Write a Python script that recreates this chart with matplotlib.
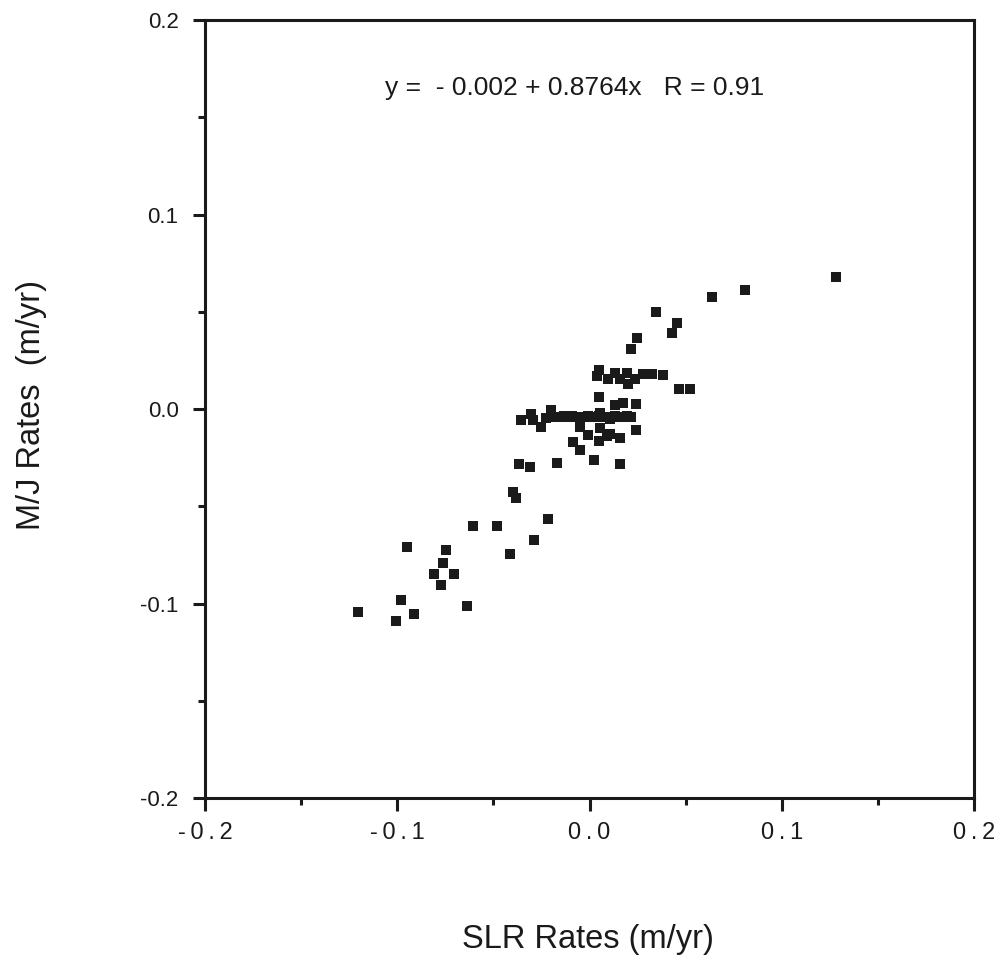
import matplotlib
matplotlib.use("Agg")
import matplotlib.pyplot as plt
from matplotlib.ticker import MultipleLocator, FixedLocator

plt.rcParams['font.family'] = ['Liberation Sans', 'DejaVu Sans']

# SLR rates (x) and M/J rates (y), m/yr
slr = [-0.1204, -0.1008, -0.0982, -0.0951, -0.0915, -0.0744, -0.0760, -0.0811,
       -0.0703, -0.0775, -0.0636, -0.0605, -0.0481, -0.0413, -0.0289, -0.0217,
       -0.0398, -0.0382, -0.0367, -0.0310, -0.0171, -0.0088, -0.0047, 0.0021,
       0.0160, -0.0357, -0.0305, -0.0295, -0.0253, -0.0227, -0.0202,
       -0.0176, -0.0155, -0.0134, -0.0114, -0.0093, -0.0072, -0.0052, -0.0031,
       -0.0010, 0.0010, 0.0031, 0.0052, 0.0072, 0.0093, 0.0114, 0.0134,
       0.0155, 0.0176, 0.0196, 0.0217,
       0.0057, 0.0109, -0.0047, -0.0010, 0.0057, 0.0047, 0.0093, 0.0109,
       0.0160, 0.0243, 0.0047, 0.0134, 0.0176, 0.0243,
       0.0047, 0.0041, 0.0134, 0.0196, 0.0098, 0.0160, 0.0202, 0.0238,
       0.0279, 0.0326, 0.0382, 0.0465, 0.0522, 0.0217, 0.0248, 0.0429,
       0.0455, 0.0346, 0.0636, 0.0811, 0.1282]
mj = [-0.1041, -0.1088, -0.0979, -0.0706, -0.1052, -0.0722, -0.0789, -0.0845,
      -0.0845, -0.0902, -0.1010, -0.0603, -0.0603, -0.0742, -0.0675, -0.0567,
      -0.0428, -0.0459, -0.0284, -0.0299, -0.0278, -0.0170, -0.0211, -0.0263,
      -0.0284, -0.0057, -0.0026, -0.0057, -0.0093, -0.0046, -0.0005,
      -0.0038, -0.0040, -0.0037, -0.0039, -0.0036, -0.0040, -0.0038, -0.0039,
      -0.0037, -0.0040, -0.0038, -0.0036, -0.0039, -0.0038, -0.0040, -0.0037,
      -0.0039, -0.0038, -0.0036, -0.0038,
      -0.0021, -0.0052, -0.0093, -0.0134, -0.0098, -0.0165, -0.0139, -0.0129,
      -0.0149, -0.0108, 0.0062, 0.0021, 0.0031, 0.0026,
      0.0201, 0.0170, 0.0186, 0.0186, 0.0155, 0.0155, 0.0129, 0.0155,
      0.0180, 0.0180, 0.0175, 0.0103, 0.0103, 0.0309, 0.0366, 0.0392,
      0.0443, 0.0500, 0.0577, 0.0613, 0.0680]

x_ticks = [-0.2, -0.1, 0.0, 0.1, 0.2]
x_tick_labels = ["-\u20090\u2009.\u20092", "-\u20090\u2009.\u20091",
                 "0\u2009.\u20090", "0\u2009.\u20091", "0\u2009.\u20092"]
y_ticks = [-0.2, -0.1, 0.0, 0.1, 0.2]
y_tick_labels = ["-0.2", "-0.1", "0.0", "0.1", "0.2"]
equation = "y =  - 0.002 + 0.8764x   R = 0.91"

fig = plt.figure(figsize=(10, 9.64), dpi=100)
ax = fig.add_axes([0.205, 0.172, 0.769, 0.807])

ax.plot(slr, mj, linestyle='none', marker='s', markersize=7.4,
        color='#1a1a1a', markeredgewidth=0)

ax.set_xlim(-0.2, 0.2)
ax.set_ylim(-0.2, 0.2)
ax.xaxis.set_major_locator(FixedLocator(x_ticks))
ax.yaxis.set_major_locator(FixedLocator(y_ticks))
ax.set_xticklabels(x_tick_labels)
ax.set_yticklabels(y_tick_labels)
ax.xaxis.set_minor_locator(MultipleLocator(0.05))
ax.yaxis.set_minor_locator(MultipleLocator(0.05))
ax.tick_params(which='major', direction='out', length=9, width=2.2,
               colors='#1a1a1a')
ax.tick_params(axis='y', which='major', labelsize=16, pad=10)
ax.tick_params(axis='x', which='major', labelsize=17, pad=8)
ax.tick_params(which='minor', direction='out', length=5, width=2.2,
               colors='#1a1a1a')
ax.tick_params(top=False, right=False, which='both')
for s in ax.spines.values():
    s.set_linewidth(2.2)
    s.set_color('#1a1a1a')

ax.text(-0.008, 0.165, equation, fontsize=19, ha='center', va='center',
        color='#1a1a1a')

fig.text(0.588, 0.025, "SLR Rates (m/yr)", fontsize=23.5, ha='center',
         va='center', color='#1a1a1a')
fig.text(0.032, 0.58, "M/J Rates  (m/yr)", fontsize=23.5, ha='center',
         va='center', rotation=90, color='#1a1a1a')

fig.savefig("out.png", dpi=100, facecolor='white')
